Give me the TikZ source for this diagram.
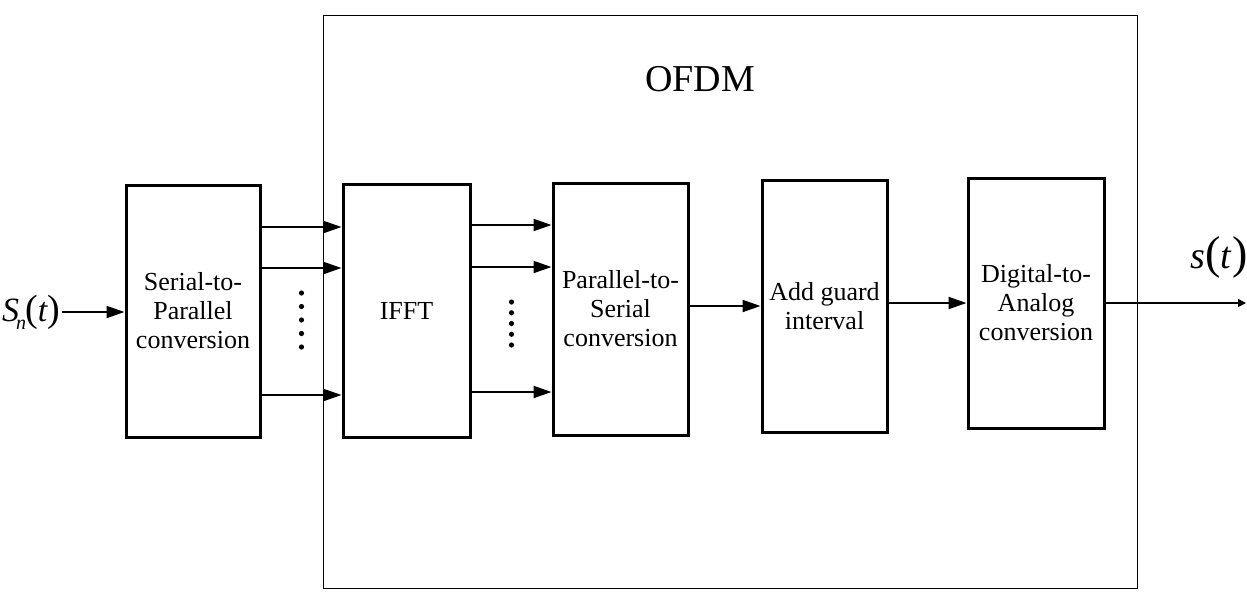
\documentclass[tikz,border=0pt]{standalone}
\usepackage{fontspec}
\setmainfont{Liberation Serif}
\usetikzlibrary{arrows.meta,positioning,calc}

\begin{document}
\begin{tikzpicture}[x=0.5pt,y=-0.5pt,
  blk/.style={draw,line width=1.5pt,inner sep=0pt,align=center,font=\fontsize{13}{14.5}\selectfont},
  arr/.style={line width=1pt,-{Triangle[length=9pt,width=6pt]}},
  outarr/.style={line width=0.8pt,-{Triangle[length=4pt,width=4pt]}}]
\useasboundingbox (0,0) rectangle (1247,591);
% OFDM frame
\draw[line width=0.5pt] (323,15) rectangle (1137,588);
\node[font=\fontsize{19}{19}\selectfont] (title) at (700,79) {OFDM};
% blocks
\node[blk,minimum width=67pt,minimum height=126pt] (sp) at (193,311) {Serial-to-\\Parallel\\conversion};
\node[blk,minimum width=63.5pt,minimum height=126.5pt] (ifft) at (406.5,310.5) {IFFT};
\node[blk,minimum width=67.5pt,minimum height=126pt] (ps) at (620.5,309) {Parallel-to-\\Serial\\conversion};
\node[blk,minimum width=62.5pt,minimum height=126pt] (guard) at (824.5,306) {Add guard\\interval};
\node[blk,minimum width=68pt,minimum height=125pt] (da) at (1036,303) {Digital-to-\\Analog\\conversion};
% input / output
\node[anchor=east,inner sep=0.5pt] (sn) at (62,312) {\fontsize{17}{17}\selectfont\textit{S}\kern-1.5pt\raisebox{-4pt}{\fontsize{10}{10}\selectfont\textit{n}}\kern-0.5pt{\fontsize{19}{19}\selectfont(}\textit{t}{\fontsize{19}{19}\selectfont)}};
\coordinate (out) at (1246,304);
\node[inner sep=0pt] (st) at (1219,257) {\fontsize{19}{19}\selectfont\textit{s}{\fontsize{23}{23}\selectfont(}\textit{t}{\fontsize{23}{23}\selectfont)}};
\draw[arr] (sn.east) -- (sn.east -| sp.west);
% parallel branches
\foreach \y in {227,268,395} \draw[arr] (sp.east |- 0,\y) -- (ifft.west |- 0,\y);
\foreach \y in {225,267,392} \draw[arr] (ifft.east |- 0,\y) -- (ps.west |- 0,\y);
\foreach \k in {0,...,4} \fill (301.5,{293+13.5*\k}) circle (1.3pt);
\foreach \k in {0,...,4} \fill (511.5,{302+10.75*\k}) circle (1.3pt);
% serial chain
\draw[arr] (ps.east |- guard.west) -- (guard.west);
\draw[arr] (guard.east |- da.west) -- (da.west);
\draw[outarr] (da.east) -- (da.east -| out);
\end{tikzpicture}
\end{document}
